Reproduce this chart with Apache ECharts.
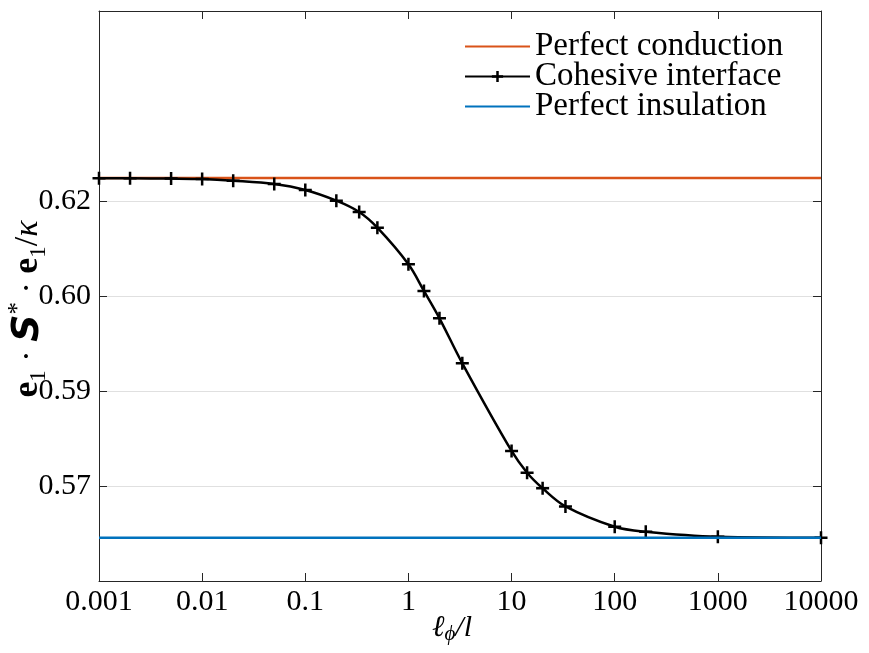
<!DOCTYPE html>
<html>
<head>
<meta charset="utf-8">
<script src="https://cdn.jsdelivr.net/npm/echarts@6/dist/echarts.min.js"></script>
<style>
html,body{margin:0;padding:0;background:#fff;}
#chart{width:869px;height:653px;}
</style>
</head>
<body>
<div id="chart"></div>
<script>
// ---- data ----
var xValues = [0.001, 0.002, 0.005, 0.01, 0.02, 0.05, 0.1, 0.2, 0.333, 0.5, 1, 1.414, 2, 3.33, 10, 14.14, 20, 33.3, 100, 200, 1000, 10000];
var cohesive = [0.62358, 0.62358, 0.62354, 0.62347, 0.62321, 0.62268, 0.62174, 0.62005, 0.61826, 0.61578, 0.61000, 0.60579, 0.60148, 0.59437, 0.58053, 0.57710, 0.57464, 0.57178, 0.56857, 0.56778, 0.56699, 0.56683];
var conductionX = [0.001, 10000];
var conductionY = [0.62363, 0.62363];
var insulationX = [0.001, 10000];
var insulationY = [0.56681, 0.56681];
var xTickLabels = ['0.001', '0.01', '0.1', '1', '10', '100', '1000', '10000'];
var yTickValues = [0.575, 0.59, 0.605, 0.62];
var yTickLabels = ['0.57', '0.59', '0.60', '0.62'];
var seriesNames = ['Perfect conduction', 'Cohesive interface', 'Perfect insulation'];

function pairs(xs, ys) { return xs.map(function (x, i) { return [x, ys[i]]; }); }

var serif = "'Liberation Serif', 'DejaVu Serif', serif";
var frameColor = '#262626';

var chart = echarts.init(document.getElementById('chart'), null, {renderer: 'canvas'});

function xAxisCfg(pos, showLabels) {
  return {
    type: 'log', logBase: 10, min: 0.001, max: 10000, position: pos,
    axisLine: {show: true, onZero: false, lineStyle: {color: frameColor, width: 1}},
    axisTick: {show: true, inside: true, length: 8, lineStyle: {color: frameColor, width: 1}},
    minorTick: {show: false},
    splitLine: {show: false},
    axisLabel: {
      show: showLabels, margin: 6, fontFamily: serif, fontSize: 30, color: '#000',
      formatter: function (v, i) { return xTickLabels[i] !== undefined ? xTickLabels[i] : ''; }
    }
  };
}
function yAxisCfg(pos, showLabels) {
  return {
    type: 'value', min: 0.56, max: 0.65, position: pos,
    axisLine: {show: true, onZero: false, lineStyle: {color: frameColor, width: 1}},
    axisTick: {show: true, inside: true, length: 8, customValues: yTickValues, lineStyle: {color: frameColor, width: 1}},
    splitLine: {show: showLabels, lineStyle: {color: '#e0e0e0', width: 1}},
    axisLabel: {
      show: showLabels, margin: 8, fontFamily: serif, fontSize: 30, color: '#000',
      customValues: yTickValues,
      formatter: function (v) {
        for (var k = 0; k < yTickValues.length; k++) {
          if (Math.abs(yTickValues[k] - v) < 1e-6) return yTickLabels[k];
        }
        return '';
      }
    }
  };
}

var xMain = xAxisCfg('bottom', true);
xMain.name = '{i|\u2113}{s|\u03d5}{i|/l}';
xMain.nameLocation = 'middle';
xMain.nameGap = 31;
xMain.nameMoveOverlap = false;
xMain.nameTextStyle = {
  padding: [0, 16, 0, 0],
  rich: {
    i: {fontFamily: serif, fontStyle: 'italic', fontSize: 30, color: '#000'},
    s: {fontFamily: serif, fontStyle: 'italic', fontSize: 21, color: '#000', verticalAlign: 'bottom', padding: [12, 0, 0, 0]}
  }
};

var yMain = yAxisCfg('left', true);
yMain.name = '{b|e}{sub|1}{n| \u00b7 }{S|S}{sup|*}{n| \u00b7 }{b|e}{sub|1}{n|/}{k|\u03ba}';
yMain.nameLocation = 'middle';
yMain.nameGap = 49;
yMain.nameMoveOverlap = false;
yMain.nameRotate = 90;
yMain.nameTextStyle = {
  padding: [0, 26, 0, 0],
  rich: {
    b: {fontFamily: serif, fontWeight: 'bold', fontSize: 36, color: '#000', lineHeight: 44},
    sub: {fontFamily: serif, fontSize: 23, color: '#000', verticalAlign: 'bottom', lineHeight: 44, padding: [16, 0, 0, 0]},
    n: {fontFamily: serif, fontSize: 34, color: '#000', lineHeight: 44},
    S: {fontFamily: "'DejaVu Sans', sans-serif", fontWeight: 'bold', fontStyle: 'italic', fontSize: 38, color: '#000', lineHeight: 44},
    sup: {fontFamily: serif, fontSize: 25, color: '#000', verticalAlign: 'top', lineHeight: 44, padding: [0, 0, 16, 0]},
    k: {fontFamily: serif, fontStyle: 'italic', fontSize: 34, color: '#000', lineHeight: 44}
  }
};

var noMarker = {color: 'rgba(0,0,0,0)', borderWidth: 0, opacity: 0};

var option = {
  backgroundColor: '#fff',
  animation: false,
  grid: {left: 99, right: 48, top: 11, bottom: 72, containLabel: false, outerBoundsMode: 'none'},
  legend: {
    orient: 'vertical', left: 459, top: 25,
    itemWidth: 65, itemHeight: 14, itemGap: -3,
    textStyle: {fontFamily: serif, fontSize: 33, color: '#000'},
    data: [
      {name: seriesNames[0], itemStyle: noMarker},
      {name: seriesNames[1], itemStyle: {borderWidth: 2.5, borderColor: '#000', color: 'rgba(0,0,0,0)'}},
      {name: seriesNames[2], itemStyle: noMarker}
    ]
  },
  xAxis: [xMain, xAxisCfg('top', false)],
  yAxis: [yMain, yAxisCfg('right', false)],
  series: [
    {
      name: seriesNames[0], type: 'line', data: pairs(conductionX, conductionY),
      symbol: 'none', showSymbol: false,
      lineStyle: {color: '#D95319', width: 2.5}, itemStyle: {color: '#D95319'}, z: 2
    },
    {
      name: seriesNames[1], type: 'line', data: pairs(xValues, cohesive),
      smooth: 0.35,
      symbol: 'path://M5,0L5,10M0,5L10,5', symbolSize: 13, showSymbol: true,
      lineStyle: {color: '#000', width: 2.5},
      itemStyle: {color: 'rgba(0,0,0,0)', borderColor: '#000', borderWidth: 2.5},
      z: 3
    },
    {
      name: seriesNames[2], type: 'line', data: pairs(insulationX, insulationY),
      symbol: 'none', showSymbol: false,
      lineStyle: {color: '#0072BD', width: 2.5}, itemStyle: {color: '#0072BD'}, z: 4
    }
  ]
};
chart.setOption(option);
</script>
</body>
</html>
